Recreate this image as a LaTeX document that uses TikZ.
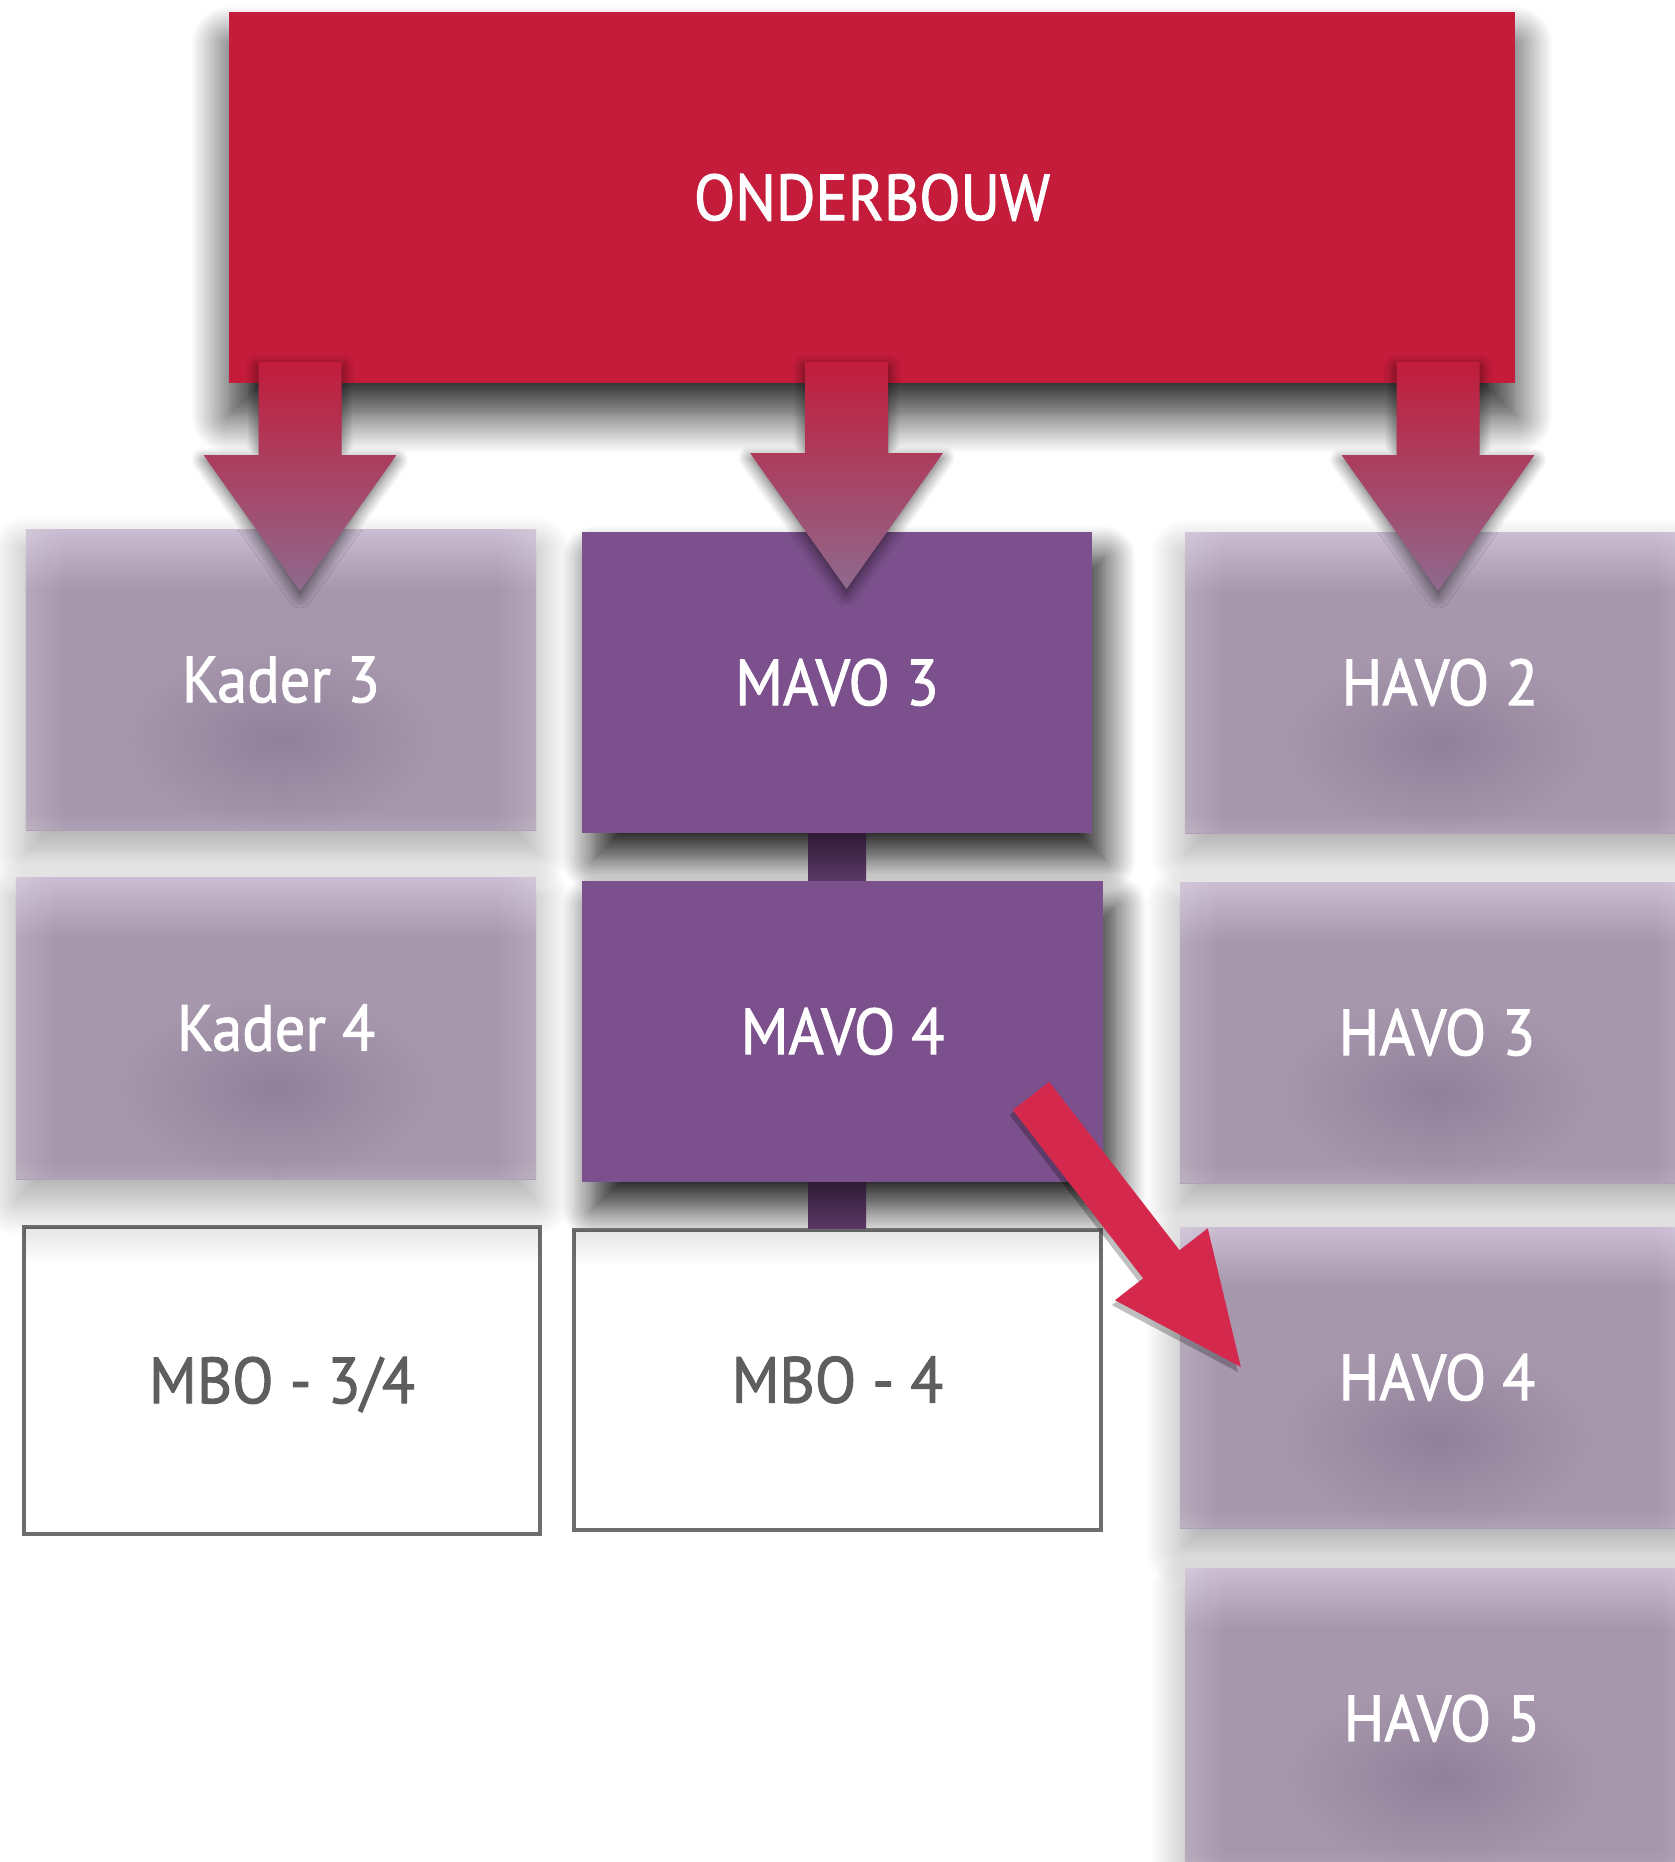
\documentclass[tikz,border=0pt]{standalone}
\usepackage{fontspec}
\setmainfont{PT Sans}
\newfontfamily\levelfont{PT Sans}[FakeBold=1.5, FakeStretch=0.93]
\usetikzlibrary{calc,positioning,arrows.meta,shadows.blur,fadings}

\definecolor{onderred}{HTML}{C41C3A}
\definecolor{mavopurple}{HTML}{7B508C}
\definecolor{dimpurple}{HTML}{A797AD}
\definecolor{dimtop}{HTML}{CABCD2}
\definecolor{dimbottom}{HTML}{AFA1B5}
\definecolor{dimblob}{HTML}{90829A}
\definecolor{mbogray}{HTML}{6E6E6E}
\definecolor{mbotext}{HTML}{5E5E5E}
\definecolor{switchred}{HTML}{D5284D}
\definecolor{arrowtop}{HTML}{C21C3B}
\definecolor{arrowbottom}{HTML}{8E6A8E}
\definecolor{bartop}{HTML}{2F1B36}
\definecolor{barbottom}{HTML}{5A3866}

% shading and fadings for the dimmed boxes (path spans 25bp--75bp)
\pgfdeclareverticalshading{dimshade}{100bp}{color(0bp)=(dimbottom); color(25bp)=(dimbottom); color(28bp)=(dimpurple); color(65bp)=(dimpurple); color(75bp)=(dimtop); color(100bp)=(dimtop)}
\pgfdeclareverticalshading{topdimshade}{100bp}{color(0bp)=(transparent!100); color(69bp)=(transparent!100); color(75bp)=(transparent!0); color(100bp)=(transparent!0)}
\pgfdeclarefading{topdim}{\pgfuseshading{topdimshade}}
\pgfdeclarehorizontalshading{sideglowshade}{100bp}{color(0bp)=(transparent!0); color(25bp)=(transparent!0); color(29bp)=(transparent!100); color(71bp)=(transparent!100); color(75bp)=(transparent!0); color(100bp)=(transparent!0)}
\pgfdeclarefading{sideglow}{\pgfuseshading{sideglowshade}}
\pgfdeclareradialshading{blobshade}{\pgfpoint{0bp}{0bp}}{color(0bp)=(transparent!0); color(15bp)=(transparent!100); color(50bp)=(transparent!100)}
\pgfdeclarefading{blobfade}{\pgfuseshading{blobshade}}

\tikzset{
  level/.style={rectangle, inner sep=0pt, minimum width=5.1cm, minimum height=3.01cm,
    text=white, text height=12.9pt, text depth=0pt, font=\levelfont\fontsize{18.5pt}{22pt}\selectfont},
  topbox/.style={level, fill=onderred, minimum width=12.86cm, minimum height=3.71cm,
    blur shadow={shadow xshift=0cm, shadow yshift=-0.32cm, shadow blur radius=0.38cm,
    shadow blur steps=20, shadow opacity=85}},
  mavobox/.style={level, fill=mavopurple,
    blur shadow={shadow xshift=0.12cm, shadow yshift=-0.26cm, shadow blur radius=0.32cm,
    shadow blur steps=20, shadow opacity=90}},
  dimbox/.style={level, shading=dimshade,
    blur shadow={shadow xshift=0cm, shadow yshift=-0.22cm, shadow blur radius=0.35cm,
    shadow blur steps=20, shadow opacity=35},
    postaction={fill=dimblob, path fading=blobfade, fading transform={yshift=-0.35cm}},
    postaction={fill=white, fill opacity=0.18, path fading=sideglow}},
  mbobox/.style={level, fill=white, draw=mbogray, line width=0.04cm, text=mbotext,
    postaction={fill=black, fill opacity=0.1, path fading=topdim}},
  feed/.style={top color=arrowtop, bottom color=arrowbottom,
    blur shadow={shadow xshift=0cm, shadow yshift=-0.05cm, shadow blur radius=0.12cm,
    shadow blur steps=10, shadow opacity=60}},
  switch/.style={switchred, line width=0.46cm, -{Triangle[width=1.06cm,length=1.35cm]}},
}

% block arrow from the top box into a box below
\newcommand\feedarrow[2]{%
  \shade[feed] ($(#1)+(-0.415,0)$) -- ($(#1)+(0.415,0)$) -- ($(#2)+(0.415,-1.36)$)
    -- ($(#2)+(0.965,-1.36)$) -- (#2) -- ($(#2)+(-0.965,-1.36)$) -- ($(#2)+(-0.415,-1.36)$) -- cycle;}

\begin{document}
\begin{tikzpicture}[x=1cm, y=-1cm]
\useasboundingbox (0,0) rectangle (16.75,18.62);

\node[topbox] (onderbouw) at (8.72,1.975) {ONDERBOUW};

\node[dimbox] (kader3) at (2.81,6.795) {Kader 3};
\node[mavobox] (mavo3) at (8.37,6.825) {MAVO 3};
\node[dimbox] (havo2) at (14.40,6.825) {HAVO 2};

\node[dimbox, minimum width=5.2cm, minimum height=3.02cm] (kader4) at (2.76,10.28) {Kader 4};
\node[mavobox, minimum width=5.21cm] (mavo4) at (8.425,10.315) {MAVO 4};
\node[dimbox, minimum width=5.14cm] (havo3) at (14.37,10.325) {HAVO 3};

\node[mbobox, minimum width=5.16cm, minimum height=3.07cm] (mbo34) at (2.82,13.805) {MBO - 3/4};
\node[mbobox, minimum width=5.27cm, minimum height=3.0cm] (mbo4) at (8.375,13.80) {MBO - 4};
\node[dimbox, minimum width=5.14cm] (havo4) at (14.37,13.775) {HAVO 4};

\node[dimbox, minimum width=5.14cm] (havo5) at (14.42,17.185) {HAVO 5};

% bars between the mavo years
\shade[top color=bartop, bottom color=barbottom] ($(mavo3.south)+(-0.29,0)$) rectangle ($(mavo4.north -| mavo3.south)+(0.29,0)$);
\shade[top color=bartop, bottom color=barbottom] ($(mavo4.south -| mavo3.south)+(-0.29,0)$) rectangle ($(mbo4.north -| mavo3.south)+(0.29,0)$);

% arrows out of the onderbouw
\coordinate (k3src) at (3.00,3.62);
\coordinate (k3tip) at (3.00,5.91);
\coordinate (m3src) at (8.465,3.62);
\coordinate (m3tip) at (8.465,5.89);
\coordinate (h2src) at (14.38,3.62);
\coordinate (h2tip) at (14.38,5.91);
\feedarrow{k3src}{k3tip}
\feedarrow{m3src}{m3tip}
\feedarrow{h2src}{h2tip}

% switch mavo 4 -> havo 4
\coordinate (switchtail) at (10.31,10.96);
\coordinate (switchtip) at (12.44,13.71);
\draw[switch, black, opacity=0.25, transform canvas={shift={(-0.03cm,-0.05cm)}}] (switchtail) -- (switchtip);
\draw[switch] (switchtail) -- (switchtip);
\end{tikzpicture}
\end{document}
